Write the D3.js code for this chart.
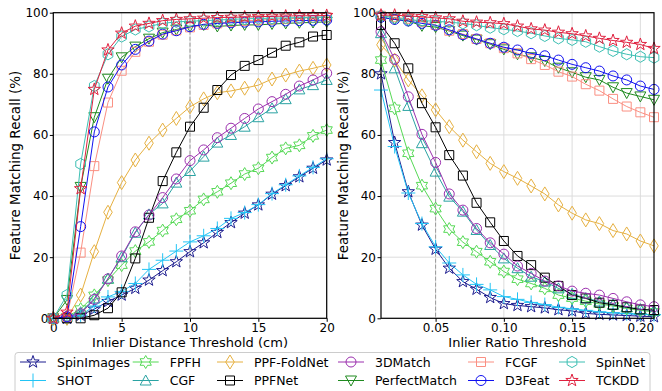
<!DOCTYPE html>
<html>
<head>
<meta charset="utf-8">
<script src="https://cdn.jsdelivr.net/npm/d3@7"></script>
<style>
  body { margin: 0; background: #fff; }
  svg { font-family: "DejaVu Sans", sans-serif; }
</style>
</head>
<body>
<svg id="chart" width="662" height="391"></svg>
<script>
// thresholds on the x axes
const distThresholds = [0, 1, 2, 3, 4, 5, 6, 7, 8, 9, 10, 11, 12, 13, 14, 15, 16, 17, 18, 19, 20];
const ratioThresholds = [0.01, 0.02, 0.03, 0.04, 0.05, 0.06, 0.07, 0.08, 0.09, 0.10, 0.11,
  0.12, 0.13, 0.14, 0.15, 0.16, 0.17, 0.18, 0.19, 0.20, 0.21];

const methods = ['SpinImages', 'SHOT', 'FPFH', 'CGF', 'PPF-FoldNet', 'PPFNet',
  '3DMatch', 'PerfectMatch', 'FCGF', 'D3Feat', 'SpinNet', 'TCKDD'];
const colors = ['#1c1c8f', '#22c4f5', '#55d955', '#2aa3a3', '#e6b040', '#000000',
  '#9b2fae', '#1f8a1f', '#fa8f82', '#1010f0', '#3dbfb3', '#e0213f'];
const shapes = ['star', 'plus', 'hexagram', 'triUp', 'thinDiamond', 'square',
  'circle', 'triDown', 'square', 'circle', 'hexagon', 'star'];

// recall (%) vs inlier distance threshold
const distSpinImages = [0, 0, 1, 3, 5.5, 7.6, 9.8, 12.5, 15.6, 18.5, 21.8, 24.7, 28.1, 31.3, 34.4, 37.1, 40.6, 43.4, 46.3, 49.1, 51.8];
const distSHOT = [0, 0, 1, 4, 7, 8.8, 11.4, 16, 19, 22, 25, 27, 29.4, 32.7, 34.6, 37.2, 40.8, 43.7, 46.6, 49.4, 52.2];
const distFPFH = [0, 0.5, 3, 7.5, 12.5, 17.4, 22, 25, 28.7, 32.4, 35.2, 38.9, 41.4, 44.2, 47.2, 49.1, 52.6, 55.6, 56.6, 59.7, 61.6];
const distCGF = [0, 0.5, 2, 6.5, 13, 20, 28, 34, 37.6, 44.4, 48.2, 52.9, 57.5, 60, 62.7, 65.8, 68.7, 71.7, 74.9, 76.3, 78];
const distPPFFoldNet = [0, 0, 7.6, 21.8, 34.7, 44.4, 51.8, 57.3, 61.6, 65.4, 69.2, 71.8, 73.8, 74.4, 75.3, 76.3, 78.3, 79.6, 80.9, 81.8, 82.9];
const distPPFNet = [0, 0, 0, 1, 3.3, 8.5, 19.6, 32.9, 44.9, 54.3, 62.7, 68.9, 74.7, 79.6, 82.6, 84.5, 86.9, 89.2, 90.3, 92.2, 92.7];
const dist3DMatch = [0, 0.5, 1.5, 6.2, 12.9, 20.4, 28.3, 33.8, 39.5, 45.6, 51.6, 55.1, 59.1, 62.2, 65.4, 68.5, 70.9, 73.3, 76, 78, 80.2];
const distPerfectMatch = [0, 6, 43, 65.8, 78.4, 85.4, 88.9, 91.5, 93.5, 94.5, 95.5, 96, 95.5, 95.8, 96, 96, 96.3, 96.5, 96.7, 96.8, 97];
const distFCGF = [0, 0.5, 21.5, 49.8, 70.6, 81, 87.2, 90.5, 92.8, 94.2, 95.2, 96, 96.5, 97, 97.3, 97.6, 97.8, 98, 98.2, 98.4, 98.5];
const distD3Feat = [0, 0.5, 30, 61, 75.7, 82.9, 88, 90.7, 93, 94.1, 95.4, 96.2, 96.5, 96.7, 96.9, 97, 97.2, 97.3, 97.4, 97.5, 97.6];
const distSpinNet = [0, 7.6, 50.5, 76, 86.4, 92.2, 94.5, 95.5, 96.5, 97, 97.2, 97.4, 97.6, 97.8, 98, 98.1, 98.2, 98.3, 98.4, 98.5, 98.6];
const distTCKDD = [0, 2, 42.4, 74.9, 87.8, 93.3, 95.6, 96.5, 97.4, 97.8, 98, 98.2, 98.4, 98.5, 98.6, 98.7, 98.8, 98.9, 99, 99, 99.1];

// recall (%) vs inlier ratio threshold
const ratioSpinImages = [80, 57.5, 41.4, 30.5, 22.6, 16.4, 12, 9.5, 6.8, 4.8, 4.2, 3.8, 3.4, 2.8, 2.4, 1.6, 1.3, 1.1, 0.9, 0.7, 0.5];
const ratioSHOT = [74.7, 56.2, 41, 31, 23.4, 18.1, 14.2, 11.1, 9.3, 7.1, 6.2, 5.2, 4.5, 3.6, 3.1, 2.6, 2.1, 1.8, 1.5, 1.3, 1.2];
const ratioFPFH = [84.5, 68.7, 54, 43.4, 35.9, 29.2, 24.9, 21.8, 18.5, 15.3, 12.8, 11.4, 9.8, 7.6, 6.6, 5.6, 4.7, 4, 3.2, 2.6, 2.1];
const ratioCGF = [93.3, 81.8, 69.5, 57.3, 48, 39.8, 34.9, 28.9, 24, 19.6, 16.4, 13.6, 12, 9.8, 8, 6.6, 5.5, 4.5, 3.6, 3, 2.5];
const ratioPPFFoldNet = [89.5, 84.5, 78, 72.8, 68.2, 62.7, 58.3, 54.5, 50.7, 48, 45.8, 43.3, 40.7, 37.1, 34.4, 32.2, 31, 28.7, 27.6, 25.3, 23.7];
const ratioPPFNet = [96, 90, 81.8, 70.4, 62.5, 53.4, 46.7, 37.8, 31.4, 25.3, 20.4, 17.4, 13.3, 10.6, 7.6, 6.5, 5.1, 4.4, 3.6, 2.9, 2.7];
const ratio3DMatch = [93.8, 84.7, 72.5, 60.2, 51, 40.7, 35.4, 29.4, 24.7, 21, 17.1, 14.7, 12.2, 10.6, 8.9, 8.2, 7.6, 6.5, 5.4, 4.4, 3.8];
const ratioPerfectMatch = [98.5, 97.8, 97.3, 95.7, 95.3, 94, 92.5, 91.2, 89.7, 88, 86.4, 85.4, 84.2, 82, 80.5, 78.9, 78, 75.6, 73.7, 72.6, 71.5];
const ratioFCGF = [99, 98.5, 98, 97, 96, 94.1, 93, 91.4, 90, 88.4, 86.7, 84.8, 82.9, 80.7, 79.1, 76.6, 74.5, 71.8, 69.3, 67.4, 65.8];
const ratioD3Feat = [98.5, 97.8, 97.3, 96.5, 95.9, 94.4, 92.8, 91.4, 90, 88.7, 87.8, 86.7, 85.9, 84.5, 83.1, 82, 80.9, 79.3, 78, 76, 74.9];
const ratioSpinNet = [99, 98.3, 97.7, 97.4, 97.2, 96.9, 96.5, 95.9, 95.1, 94.6, 94, 93.3, 92.4, 91.6, 91.1, 90.5, 88.9, 87.5, 86.4, 85.6, 85.3];
const ratioTCKDD = [99.2, 99.2, 98.9, 98.7, 98.3, 98, 97.2, 96.9, 96.7, 96.4, 95.6, 94.7, 94.3, 93.6, 93.1, 92.4, 91.6, 90.9, 90.3, 89.6, 88.3];

const distSeries = [distSpinImages, distSHOT, distFPFH, distCGF, distPPFFoldNet, distPPFNet,
  dist3DMatch, distPerfectMatch, distFCGF, distD3Feat, distSpinNet, distTCKDD];
const ratioSeries = [ratioSpinImages, ratioSHOT, ratioFPFH, ratioCGF, ratioPPFFoldNet, ratioPPFNet,
  ratio3DMatch, ratioPerfectMatch, ratioFCGF, ratioD3Feat, ratioSpinNet, ratioTCKDD];

const yTicks = [0, 20, 40, 60, 80, 100];
const distTicks = [0, 5, 10, 15, 20];
const ratioTicks = [0.05, 0.10, 0.15, 0.20];

// marker outlines, unfilled like matplotlib fillstyle='none'
function starPath(n, rOut, rIn) {
  let pts = [];
  for (let i = 0; i < 2 * n; i++) {
    let r = i % 2 === 0 ? rOut : rIn;
    let a = -Math.PI / 2 + i * Math.PI / n;
    pts.push(r * Math.cos(a) + ',' + r * Math.sin(a));
  }
  return 'M' + pts.join('L') + 'Z';
}
function markerPath(shape) {
  switch (shape) {
    case 'circle': return 'M5,0A5,5 0 1,1 -5,0A5,5 0 1,1 5,0Z';
    case 'square': return 'M-4.5,-4.5L4.5,-4.5L4.5,4.5L-4.5,4.5Z';
    case 'triUp': return 'M0,-5.5L5.5,4.5L-5.5,4.5Z';
    case 'triDown': return 'M0,5.5L5.5,-4.5L-5.5,-4.5Z';
    case 'thinDiamond': return 'M0,-7L4.3,0L0,7L-4.3,0Z';
    case 'hexagon': return starPath(3, 5.6, 5.6); // 6 equal vertices
    case 'star': return starPath(5, 6.5, 2.6);
    case 'hexagram': return starPath(6, 6.5, 3.8);
    case 'plus': return 'M-7,0L7,0M0,-7L0,7';
  }
}

const svg = d3.select('#chart');
const plotTop = 12.7, plotBottom = 318.3;

function drawPanel(left, right, xDomain, xValues, series, xTickVals, xFmt, xLabel, dashAt) {
  let x = d3.scaleLinear().domain(xDomain).range([left, right]);
  let y = d3.scaleLinear().domain([0, 100]).range([plotBottom, plotTop]);
  let g = svg.append('g');

  // grid
  g.selectAll('.vg').data(xTickVals).enter().append('line')
    .attr('x1', d => x(d)).attr('x2', d => x(d))
    .attr('y1', plotTop).attr('y2', plotBottom)
    .style('stroke', '#dcdcdc').attr('stroke-width', 1);
  g.selectAll('.hg').data(yTicks).enter().append('line')
    .attr('x1', left).attr('x2', right)
    .attr('y1', d => y(d)).attr('y2', d => y(d))
    .style('stroke', '#dcdcdc').attr('stroke-width', 1);

  // reference threshold
  g.append('line')
    .attr('x1', x(dashAt)).attr('x2', x(dashAt))
    .attr('y1', plotTop).attr('y2', plotBottom)
    .style('stroke', '#9a9a9a').attr('stroke-width', 1)
    .attr('stroke-dasharray', '4,2');

  // axes
  let xAxis = g.append('g').attr('transform', 'translate(0,' + plotBottom + ')')
    .call(d3.axisBottom(x).tickValues(xTickVals).tickFormat(xFmt).tickSize(3.5).tickPadding(1.5));
  let yAxis = g.append('g').attr('transform', 'translate(' + left + ',0)')
    .call(d3.axisLeft(y).tickValues(yTicks).tickSize(3.5).tickPadding(1.5));
  [xAxis, yAxis].forEach(a => {
    a.select('.domain').remove();
    a.selectAll('text').style('font-size', '12px').style('fill', '#000')
      .style('font-family', '"DejaVu Sans", sans-serif');
    a.selectAll('line').style('stroke', '#000');
  });

  let line = d3.line().x((d, i) => x(xValues[i])).y(d => y(d));

  series.forEach((vals, k) => {
    g.append('path')
      .datum(vals)
      .style('fill', 'none')
      .style('stroke', colors[k])
      .attr('stroke-width', 1)
      .attr('d', line);
    g.selectAll('.m' + k).data(vals).enter().append('path')
      .attr('transform', (d, i) => 'translate(' + x(xValues[i]) + ',' + y(d) + ')')
      .attr('d', markerPath(shapes[k]))
      .style('fill', 'none')
      .style('stroke', colors[k])
      .attr('stroke-width', 1);
  });

  // frame
  g.append('rect')
    .attr('x', left).attr('y', plotTop)
    .attr('width', right - left).attr('height', plotBottom - plotTop)
    .style('fill', 'none').style('stroke', '#000').attr('stroke-width', 1.2);

  g.append('text')
    .attr('x', (left + right) / 2).attr('y', 346.5)
    .attr('text-anchor', 'middle')
    .style('font-size', '13px')
    .text(xLabel);
  g.append('text')
    .attr('transform', 'translate(' + (left - 33) + ',' + ((plotTop + plotBottom) / 2) + ') rotate(-90)')
    .attr('text-anchor', 'middle')
    .style('font-size', '13.5px')
    .text('Feature Matching Recall (%)');
}

drawPanel(53.3, 326.7, [0, 20], distThresholds, distSeries, distTicks, d3.format('d'),
  'Inlier Distance Threshold (cm)', 10);
drawPanel(381, 654, [0.01, 0.21], ratioThresholds, ratioSeries, ratioTicks, d3.format('.2f'),
  'Inlier Ratio Threshold', 0.05);

// legend, 6 columns x 2 rows
let legend = svg.append('g');
legend.append('rect')
  .attr('x', 15).attr('y', 352.5)
  .attr('width', 635).attr('height', 50)
  .attr('rx', 3)
  .style('fill', '#fff').style('stroke', '#cccccc').attr('stroke-width', 1);

const colX = [20, 132.7, 217, 338, 468, 559];
const rowY = [362, 380.5];
methods.forEach((m, k) => {
  let col = Math.floor(k / 2), row = k % 2;
  let x0 = colX[col], yy = rowY[row];
  let item = legend.append('g');
  item.append('line')
    .attr('x1', x0).attr('x2', x0 + 26)
    .attr('y1', yy).attr('y2', yy)
    .style('stroke', colors[k]).attr('stroke-width', 1);
  item.append('path')
    .attr('transform', 'translate(' + (x0 + 13) + ',' + yy + ')')
    .attr('d', markerPath(shapes[k]))
    .style('fill', 'none').style('stroke', colors[k]).attr('stroke-width', 1);
  item.append('text')
    .attr('x', x0 + 37).attr('y', yy + 4.5)
    .style('font-size', '12.5px')
    .text(m);
});
</script>
</body>
</html>
